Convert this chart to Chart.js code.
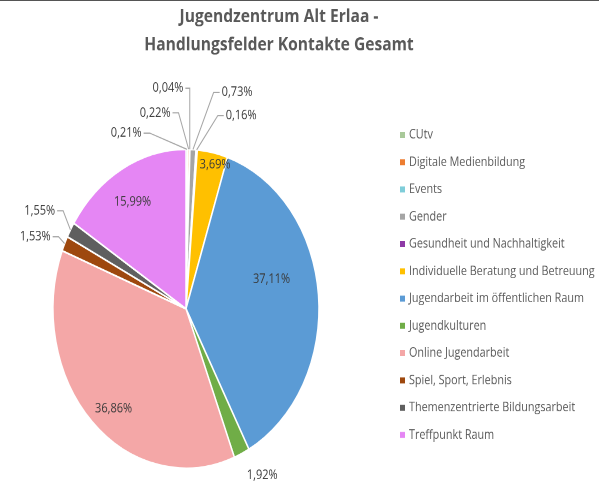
<!DOCTYPE html>
<html>
<head>
<meta charset="utf-8">
<script src="https://cdn.jsdelivr.net/npm/chart.js@4/dist/chart.umd.min.js"></script>
<style>
  html, body { margin: 0; padding: 0; background: #fff; }
  body { width: 599px; height: 482px; overflow: hidden; position: relative; }
  #wrap { position: absolute; left: 0; top: 0; width: 599px; height: 402px; transform: scaleY(1.199); transform-origin: 0 0; }
  #topline { position: absolute; left: 0; top: 0; width: 599px; height: 1px; background: #555; z-index: 2; }
</style>
</head>
<body>
<div id="topline"></div>
<div id="wrap"><canvas id="chart" width="599" height="402"></canvas></div>
<script>
const titleLines = ['Jugendzentrum Alt Erlaa -', 'Handlungsfelder Kontakte Gesamt'];
const categories = [
  'CUtv', 'Digitale Medienbildung', 'Events', 'Gender', 'Gesundheit und Nachhaltigkeit',
  'Individuelle Beratung und Betreuung', 'Jugendarbeit im öffentlichen Raum', 'Jugendkulturen',
  'Online Jugendarbeit', 'Spiel, Sport, Erlebnis', 'Themenzentrierte Bildungsarbeit', 'Treffpunkt Raum'
];
const shares = [0.21, 0.22, 0.04, 0.73, 0.16, 3.69, 37.11, 1.92, 36.86, 1.53, 1.55, 15.99];
const sliceColors = [
  '#a9c99a', '#ed7d31', '#7fcdd9', '#a5a5a5', '#8e3aa6', '#ffc000',
  '#5b9bd5', '#70ad47', '#f4a7a7', '#9e480e', '#5f5f5f', '#e586f4'
];

// where each value label sits: [degrees clockwise from 12 o'clock, multiple of radius, leader line?]
const labelPlace = [
  [-22.2, 1.19, true], [-10.7, 1.25, true], [-5.6, 1.39, true], [15.8, 1.41, true], [18.9, 1.28, true],
  [13.6, 0.93, false], [73.8, 0.67, false], [151.2, 1.19, false], [221, 0.83, false],
  [291.7, 1.22, true], [299.2, 1.26, true], [329, 0.78, false]
];

const fmt = v => v.toFixed(2).replace('.', ',') + '%';

const extras = {
  id: 'extras',
  afterDatasetsDraw(chart) {
    const ctx = chart.ctx;
    const arcs = chart.getDatasetMeta(0).data;
    ctx.save();
    ctx.font = '11px "Open Sans"';
    ctx.textAlign = 'center';
    ctx.textBaseline = 'middle';
    arcs.forEach((arc, i) => {
      const {x, y, startAngle, endAngle, outerRadius} = arc.getProps(['x', 'y', 'startAngle', 'endAngle', 'outerRadius'], true);
      const [deg, rf, lead] = labelPlace[i];
      const a = deg * Math.PI / 180 - Math.PI / 2;
      const lx = x + Math.cos(a) * outerRadius * rf;
      const ly = y + Math.sin(a) * outerRadius * rf;
      const txt = fmt(shares[i]);
      if (lead) {
        const mid = (startAngle + endAngle) / 2;
        const ax = x + Math.cos(mid) * outerRadius;
        const ay = y + Math.sin(mid) * outerRadius;
        const w = ctx.measureText(txt).width;
        const dir = ax > lx ? 1 : -1;
        const sx = lx + dir * (w / 2 + 2);
        const hx = sx + dir * Math.min(6, Math.abs(ax - sx));
        ctx.strokeStyle = '#a6a6a6';
        ctx.lineWidth = 1;
        ctx.beginPath();
        ctx.moveTo(sx, ly);
        ctx.lineTo(hx, ly);
        ctx.lineTo(ax, ay);
        ctx.stroke();
      }
      ctx.fillStyle = '#3a3a3a';
      ctx.fillText(txt, lx, ly);
    });

    // title
    ctx.fillStyle = '#595959';
    ctx.font = 'bold 15.6px "Open Sans"';
    ctx.fillText(titleLines[0], 279, 14);
    ctx.fillText(titleLines[1], 279, 37.5);

    // legend
    ctx.font = '10.8px "Open Sans"';
    ctx.textAlign = 'left';
    categories.forEach((c, i) => {
      const ly = 112.5 + i * 22.75;
      ctx.fillStyle = sliceColors[i];
      ctx.fillRect(400, ly - 2.5, 5, 5);
      ctx.fillStyle = '#595959';
      ctx.fillText(c, 409, ly);
    });
    ctx.restore();
  }
};

new Chart(document.getElementById('chart'), {
  type: 'pie',
  data: {
    labels: categories,
    datasets: [{
      data: shares,
      backgroundColor: sliceColors,
      borderColor: '#ffffff',
      borderWidth: 1.5,
      hoverOffset: 0,
      radius: 133
    }]
  },
  plugins: [extras],
  options: {
    responsive: false,
    animation: false,
    devicePixelRatio: 2,
    layout: { padding: { left: 53, right: 280, top: 124.5, bottom: 11.5 } },
    plugins: {
      legend: { display: false },
      title: { display: false },
      tooltip: { enabled: false }
    }
  }
});
</script>
</body>
</html>
